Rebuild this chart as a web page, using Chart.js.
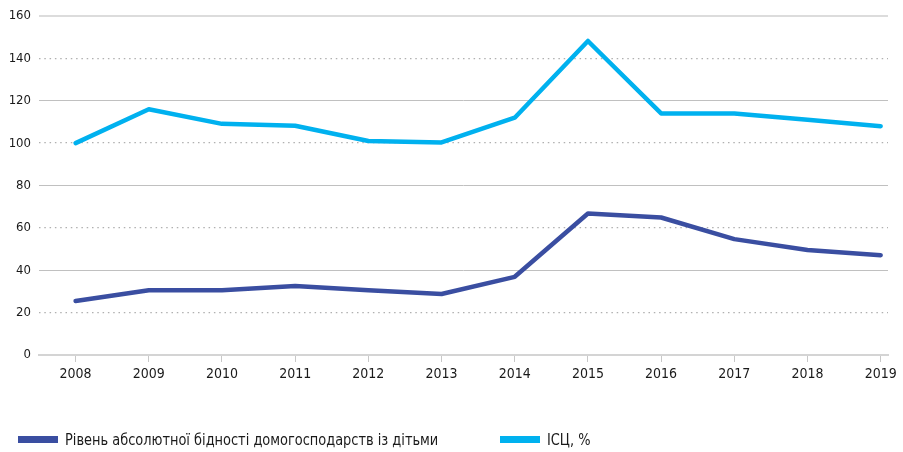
<!DOCTYPE html>
<html lang="uk">
<head>
<meta charset="utf-8">
<script src="https://cdn.jsdelivr.net/npm/chart.js@4/dist/chart.umd.min.js"></script>
<style>
  html, body { margin: 0; padding: 0; background: #fff; }
  #wrap { position: relative; width: 903px; height: 452px; }
  #chart { position: absolute; left: 0; top: 0; }
  .item {
    position: absolute; top: 429px; height: 20px;
    display: flex; align-items: center;
    font-family: "DejaVu Sans Condensed", "Liberation Sans Narrow", "Roboto", sans-serif;
    font-size: 16px; color: #1a1a1a; white-space: nowrap;
  }
  .swatch { width: 40px; height: 7px; margin-right: 7px; flex: none; }
  .label { display: inline-block; transform: scaleX(0.9); transform-origin: left center; }
</style>
</head>
<body>
<div id="wrap">
  <canvas id="chart" width="903" height="452"></canvas>
</div>
<script>
// Years on the horizontal axis
const years = [2008, 2009, 2010, 2011, 2012, 2013, 2014, 2015, 2016, 2017, 2018, 2019];

// Absolute poverty level of households with children
const povertyLevel = [25.5, 30.6, 30.6, 32.6, 30.6, 28.8, 36.9, 66.8, 64.9, 54.7, 49.6, 47.1];

// Consumer price index, %
const cpi = [100, 116, 109.1, 108.2, 101, 100.3, 112, 148.2, 114, 114, 111, 108];

// Vertical axis tick values
const yTicks = [0, 20, 40, 60, 80, 100, 120, 140, 160];

const seriesNames = ['Рівень абсолютної бідності домогосподарств із дітьми', 'ІСЦ, %'];
const seriesColors = ['#3a4ea1', '#00b1ef'];
const legendLeft = [18, 500];

const FONT = '"DejaVu Sans Condensed", "Liberation Sans Narrow", "Roboto", sans-serif';

const toPoints = vals => years.map((y, i) => ({ x: y, y: vals[i] }));

new Chart(document.getElementById('chart'), {
  type: 'line',
  data: {
    datasets: [
      {
        label: seriesNames[0],
        data: toPoints(povertyLevel),
        borderColor: seriesColors[0],
        backgroundColor: seriesColors[0],
        borderWidth: 4.5,
        pointRadius: 0,
        tension: 0,
        borderCapStyle: 'round',
        borderJoinStyle: 'round'
      },
      {
        label: seriesNames[1],
        data: toPoints(cpi),
        borderColor: seriesColors[1],
        backgroundColor: seriesColors[1],
        borderWidth: 4.5,
        pointRadius: 0,
        tension: 0,
        borderCapStyle: 'round',
        borderJoinStyle: 'round'
      }
    ]
  },
  options: {
    responsive: false,
    animation: false,
    layout: { padding: { left: 0, right: 15, top: 16, bottom: 57 } },
    plugins: {
      legend: { display: false },
      tooltip: { enabled: false }
    },
    scales: {
      x: {
        type: 'linear',
        min: 2007.5,
        max: 2019.1,
        afterBuildTicks: scale => { scale.ticks = years.map(v => ({ value: v })); },
        afterFit: scale => { scale.height = 40; },
        grid: {
          drawOnChartArea: false,
          drawTicks: true,
          tickLength: 7,
          color: '#c8c8c8',
          lineWidth: 1
        },
        border: { display: true, color: '#d4d4d4', width: 2 },
        ticks: {
          padding: 4,
          maxRotation: 0,
          autoSkip: false,
          color: '#1a1a1a',
          font: { family: FONT, size: 14 },
          callback: v => String(v)
        }
      },
      y: {
        min: 0,
        max: 160,
        afterBuildTicks: scale => { scale.ticks = yTicks.map(v => ({ value: v })); },
        afterFit: scale => { scale.width = 39; },
        grid: {
          drawTicks: false,
          color: ctx => {
            const v = ctx.tick.value;
            if (v === 0 || v === 160) return '#dcdcdc';
            return v % 40 === 0 ? '#c0c0c0' : '#b0b0b0';
          },
          lineWidth: ctx => {
            const v = ctx.tick.value;
            if (v === 0 || v === 160) return 2;
            return v % 40 === 0 ? 1 : 1.3;
          }
        },
        border: {
          display: false,
          dash: ctx => (ctx.tick && ctx.tick.value % 40 !== 0) ? [1.5, 3.8] : []
        },
        ticks: {
          padding: 8,
          color: '#1a1a1a',
          font: { family: FONT, size: 13 },
          callback: v => String(v)
        }
      }
    }
  }
});

// Legend below the plot
const wrap = document.getElementById('wrap');
seriesNames.forEach((name, i) => {
  const item = document.createElement('div');
  item.className = 'item';
  item.style.left = legendLeft[i] + 'px';
  const sw = document.createElement('span');
  sw.className = 'swatch';
  sw.style.background = seriesColors[i];
  const label = document.createElement('span');
  label.className = 'label';
  label.textContent = name;
  item.appendChild(sw);
  item.appendChild(label);
  wrap.appendChild(item);
});
</script>
</body>
</html>
